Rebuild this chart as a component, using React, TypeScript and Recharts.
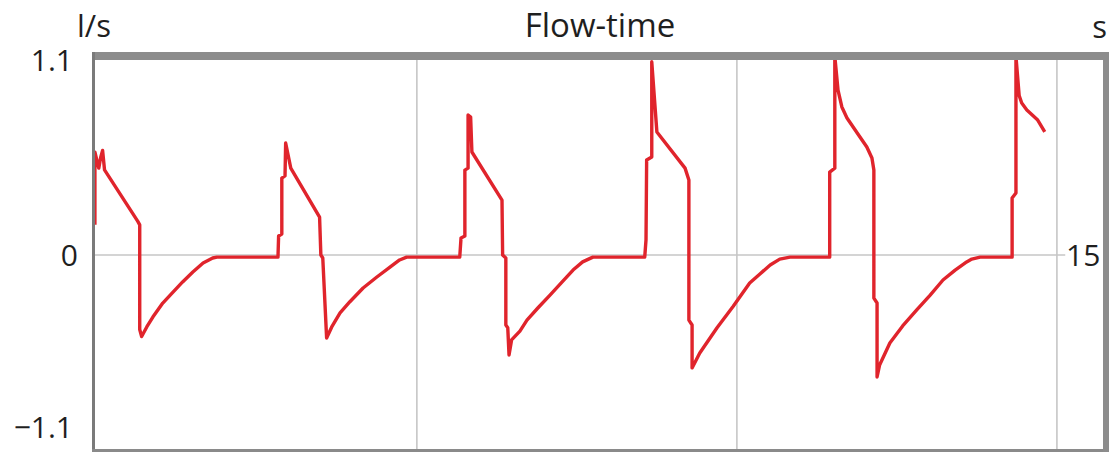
import React from 'react';
import { LineChart, Line, XAxis, YAxis, ReferenceLine } from 'recharts';

// Flow-time trace: time in seconds, flow in l/s
const timeS = [
  -0.03, -0.03, 0.03, 0.06, 0.09, 0.12, 0.64, 0.67, 0.67, 0.70, 0.78, 0.875, 1.03, 1.19, 1.34, 1.50, 1.66, 1.81, 1.875, 2.83,
  2.84, 2.89, 2.89, 2.94, 2.95, 3.03, 3.48, 3.50, 3.53, 3.59, 3.67, 3.80, 3.95, 4.16, 4.375, 4.58, 4.73, 4.84, 5.67,
  5.69, 5.75, 5.75, 5.80, 5.80, 5.84, 5.86, 6.33, 6.34, 6.39, 6.39, 6.42, 6.44, 6.48, 6.61, 6.72, 6.89, 7.08, 7.27, 7.44, 7.59, 7.75, 8.56,
  8.58, 8.59, 8.67, 8.67, 8.75, 9.19, 9.25, 9.25, 9.30, 9.30, 9.42, 9.69, 9.94, 10.20, 10.36, 10.52, 10.67, 10.83, 11.45,
  11.45, 11.53, 11.53, 11.58, 11.64, 11.72, 11.88, 12.03, 12.11, 12.14, 12.14, 12.19, 12.19, 12.23, 12.39, 12.59, 12.81, 13.02, 13.22, 13.41, 13.59, 13.67, 13.80, 14.30,
  14.30, 14.36, 14.36, 14.41, 14.45, 14.53, 14.70, 14.81,
];
const flowLps = [
  0.17, 0.58, 0.49, 0.55, 0.59, 0.48, 0.19, 0.17, -0.42, -0.46, -0.406, -0.35, -0.271, -0.209, -0.152, -0.096, -0.045, -0.017, -0.012, -0.012,
  0.107, 0.118, 0.434, 0.446, 0.632, 0.49, 0.214, 0.0, -0.017, -0.468, -0.406, -0.327, -0.265, -0.186, -0.124, -0.068, -0.028, -0.012, -0.012,
  0.096, 0.107, 0.479, 0.49, 0.79, 0.778, 0.581, 0.31, 0.0, -0.017, -0.395, -0.41, -0.564, -0.479, -0.429, -0.367, -0.299, -0.226, -0.152, -0.085, -0.039, -0.012, -0.012,
  0.085, 0.536, 0.553, 1.09, 0.694, 0.49, 0.423, -0.367, -0.395, -0.637, -0.553, -0.41, -0.29, -0.158, -0.107, -0.056, -0.023, -0.012, -0.012,
  0.468, 0.49, 1.12, 0.93, 0.835, 0.773, 0.688, 0.609, 0.547, 0.479, -0.243, -0.271, -0.688, -0.62, -0.496, -0.40, -0.31, -0.226, -0.141, -0.085, -0.039, -0.023, -0.012, -0.012,
  0.321, 0.35, 1.12, 0.9, 0.857, 0.818, 0.761, 0.694,
];

const yTicks = [1.1, 0, -1.1];
const xDomain = [-0.06, 15.72];
const yDomain = [-1.1, 1.1];
const gridSeconds = [5, 10, 15];
const zeroLineEnd = 15.13;
const title = 'Flow-time';
const yUnit = 'l/s';
const xUnit = 's';
const xEndLabel = '15';

const data = timeS.map((t, i) => ({ t, flow: flowLps[i] }));

const FONT = '"Open Sans", "Noto Sans", sans-serif';
const TEXT = '#1f1f1f';

const YTick = (props: any) => {
  const { x, y, payload } = props;
  const v = payload.value;
  const dx = v === 0 ? 5 : 0;
  const dy = v === -1.1 ? -17 : 0;
  const label = v < 0 ? '\u2212' + String(Math.abs(v)) : String(v);
  return (
    <text x={x + dx} y={y + dy} dy="0.36em" textAnchor="end" fontSize={30} fill={TEXT} fontFamily={FONT}>
      {label}
    </text>
  );
};

export default function App() {
  return (
    <div style={{ position: 'absolute', left: 0, top: 0, width: 1109, height: 453, background: '#fff' }}>
      <LineChart width={1109} height={453} data={data} margin={{ top: 60, right: 6, bottom: 3, left: 0 }}>
        <XAxis dataKey="t" type="number" domain={xDomain} hide allowDataOverflow />
        <YAxis
          type="number"
          domain={yDomain}
          ticks={yTicks}
          width={93}
          axisLine={false}
          tickLine={false}
          tickSize={0}
          tickMargin={20}
          tick={<YTick />}
          allowDataOverflow
        />
        {gridSeconds.map((s) => (
          <ReferenceLine key={s} x={s} stroke="#c6c6c6" strokeWidth={1.6} />
        ))}
        <ReferenceLine
          segment={[{ x: xDomain[0], y: 0 }, { x: zeroLineEnd, y: 0 }]}
          stroke="#c6c6c6"
          strokeWidth={1.6}
        />
        <Line
          dataKey="flow"
          type="linear"
          stroke="#e0242c"
          strokeWidth={3.4}
          dot={false}
          isAnimationActive={false}
          strokeLinejoin="round"
        />
      </LineChart>
      <svg width={1109} height={453} style={{ position: 'absolute', left: 0, top: 0, pointerEvents: 'none' }}>
        <rect x={92} y={52} width={1017} height={8} fill="#8c8c8c" />
        <rect x={92} y={52} width={3} height={400} fill="#7a7a7a" />
        <rect x={92} y={449} width={1017} height={3} fill="#8a8a8a" />
        <rect x={1103} y={52} width={6} height={400} fill="#8c8c8c" />
        <text x={77} y={37} fontSize={31} fill={TEXT} fontFamily={FONT}>{yUnit}</text>
        <text x={600} y={37} fontSize={33} fill={TEXT} fontFamily={FONT} textAnchor="middle">{title}</text>
        <text x={1107} y={38} fontSize={31} fill={TEXT} fontFamily={FONT} textAnchor="end">{xUnit}</text>
        <text x={1066} y={266} fontSize={30} fill={TEXT} fontFamily={FONT}>{xEndLabel}</text>
      </svg>
    </div>
  );
}
